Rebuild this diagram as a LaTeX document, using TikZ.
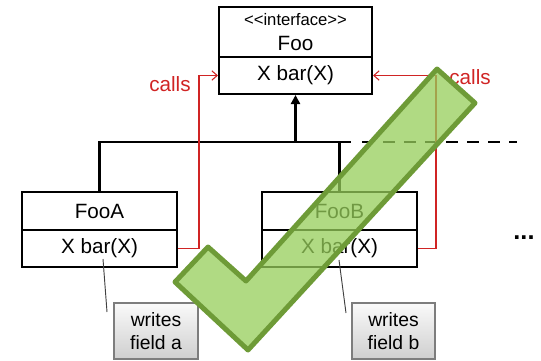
\documentclass[tikz,border=0pt]{standalone}
\usepackage{fontspec}
\setmainfont{Liberation Sans}
\usetikzlibrary{arrows.meta}
\definecolor{callred}{RGB}{208,36,36}
\definecolor{chkfill}{RGB}{150,205,90}
\definecolor{chkdraw}{RGB}{110,155,55}
\definecolor{notedraw}{RGB}{125,125,125}
\begin{document}
\begin{tikzpicture}[x=0.75pt,y=-0.75pt,
  mainfont/.style={font=\fontsize{15.5}{18}\selectfont},
  box/.style={draw=black,line width=1.5pt,inner sep=0pt,mainfont},
  notebox/.style={draw=notedraw,line width=1.1pt,top color=gray!4,bottom color=gray!38,
     minimum height=42pt,inner sep=0pt,align=center,font=\fontsize{14.5}{17}\selectfont},
  inh/.style={draw=black,line width=2.1pt},
  callsty/.style={draw=callred,line width=0.8pt},
  calltip/.style={-{Straight Barb[length=4pt,width=7pt]}},
  callout/.style={draw=black!75,line width=0.7pt},
  chk/.style={draw=chkdraw,line width=3.75pt,line join=round,fill=chkfill,fill opacity=0.75}
]
\useasboundingbox (0,0) rectangle (541,360);

% interface Foo
\node[box,minimum width=114.75pt,minimum height=37.5pt] (foo1) at (295.5,32) {};
\node[box,minimum width=114.75pt,minimum height=27.75pt] (foo2) at (295.5,75.5) {X bar(X)};
\node[font=\fontsize{12.5}{14}\selectfont,inner sep=0pt] (stereo) at (295.5,20) {<{}<interface>{}>};
\node[mainfont,inner sep=0pt] (fooname) at (295.5,43) {Foo};

% FooA
\node[box,minimum width=116.25pt,minimum height=28.5pt] (fooa1) at (99.5,211) {FooA};
\node[box,minimum width=116.25pt,minimum height=27.75pt] (fooa2) at (99.5,248.5) {X bar(X)};

% FooB
\node[box,minimum width=116.25pt,minimum height=28.5pt] (foob1) at (339.5,211) {FooB};
\node[box,minimum width=116.25pt,minimum height=27.75pt] (foob2) at (339.5,248.5) {X bar(X)};

% notes
\node[notebox,minimum width=63pt] (notea) at (156,331) {writes\\field a};
\node[notebox,minimum width=62.25pt] (noteb) at (393.5,331) {writes\\field b};
\coordinate (ca1) at (103,259);
\coordinate (ca2) at (107,312);
\coordinate (cb1) at (339,260);
\coordinate (cb2) at (346,313);
\draw[callout] (ca1) -- (ca2);
\draw[callout] (cb1) -- (cb2);

% inheritance
\coordinate (jn) at (295.5,142);
\coordinate (hs) at (351,142);
\coordinate (ds) at (362,142);
\coordinate (he) at (517,142);
\draw[inh,-{Triangle[length=6.75pt,width=6.75pt]}] (jn) -- (foo2.south);
\draw[inh] (fooa1.north) |- (hs);
\draw[inh] (foob1.north) -- (foob1.north |- jn);
\draw[inh,dash pattern=on 9pt off 6.75pt] (ds) -- (he);

% calls
\coordinate (lx) at (199,75.5);
\coordinate (rx) at (436,75.5);
\draw[callsty,calltip] (fooa2.east) -| (lx) -- (foo2.west);
\draw[callsty,calltip] (foob2.east) -| (rx) -- (foo2.east);
\node[mainfont,text=callred,inner sep=0pt] (callsl) at (170,84) {calls};
\node[mainfont,text=callred,inner sep=0pt] (callsr) at (470,77) {calls};

% more
\node[font=\fontsize{19}{22}\selectfont\bfseries,inner sep=0pt] (more) at (524,238) {...};

% check mark
\draw[chk] (437,69) -- (475,103) -- (248,350) -- (175,282) -- (208,247) -- (246,281) -- cycle;
\end{tikzpicture}
\end{document}
